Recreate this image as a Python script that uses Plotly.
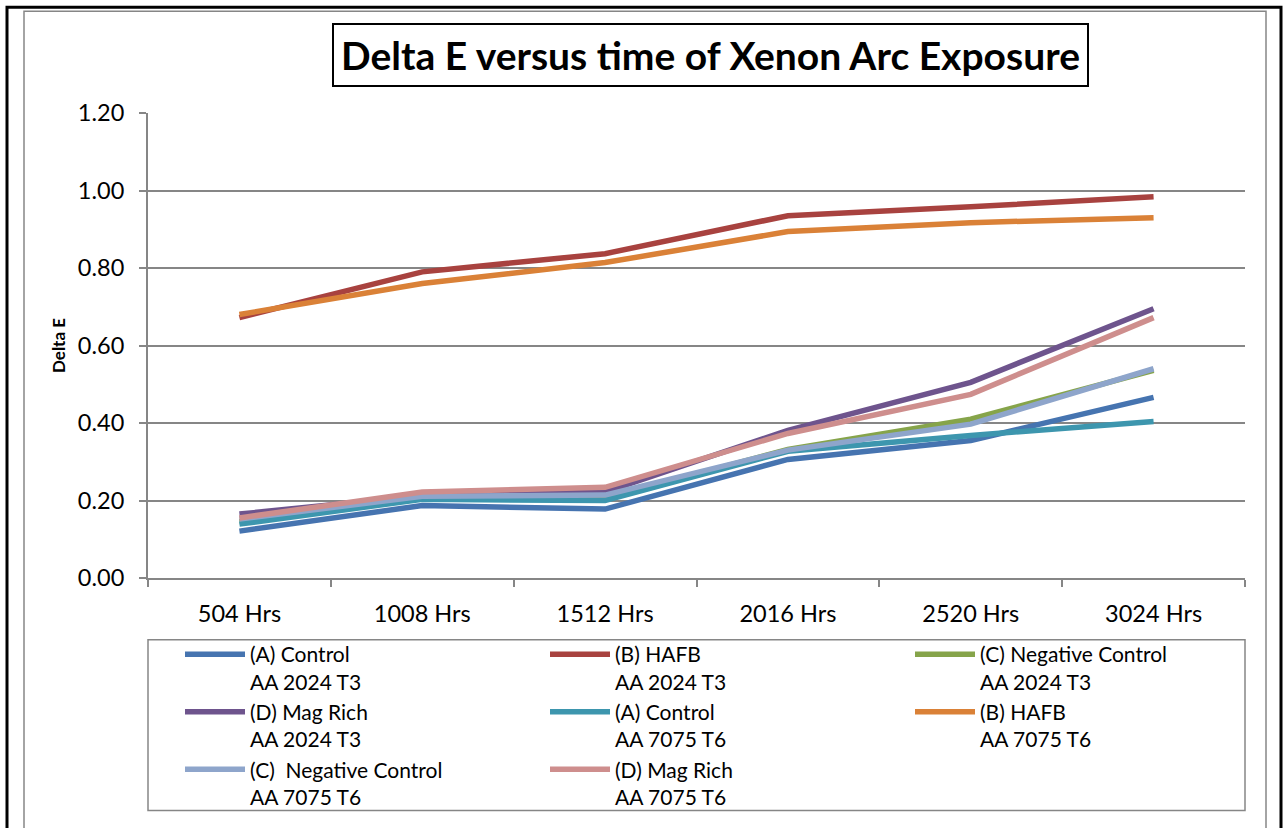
import plotly.graph_objects as go

# Exposure intervals (hours of xenon arc)
categories = ["504 Hrs", "1008 Hrs", "1512 Hrs", "2016 Hrs", "2520 Hrs", "3024 Hrs"]

# Delta E readings per coating / alloy
a_control_2024 = [0.121, 0.187, 0.178, 0.306, 0.355, 0.466]
b_hafb_2024 = [0.672, 0.790, 0.837, 0.935, 0.958, 0.984]
c_negative_2024 = [0.145, 0.205, 0.205, 0.332, 0.410, 0.536]
d_magrich_2024 = [0.165, 0.212, 0.222, 0.381, 0.505, 0.695]
a_control_7075 = [0.139, 0.203, 0.200, 0.327, 0.368, 0.404]
b_hafb_7075 = [0.680, 0.760, 0.814, 0.894, 0.917, 0.930]
c_negative_7075 = [0.152, 0.211, 0.214, 0.330, 0.397, 0.540]
d_magrich_7075 = [0.155, 0.222, 0.234, 0.373, 0.474, 0.672]

series_names = [
    "(A) Control<br>AA 2024 T3",
    "(B) HAFB<br>AA 2024 T3",
    "(C) Negative Control<br>AA 2024 T3",
    "(D) Mag Rich<br>AA 2024 T3",
    "(A) Control<br>AA 7075 T6",
    "(B) HAFB<br>AA 7075 T6",
    "(C)  Negative Control<br>AA 7075 T6",
    "(D) Mag Rich<br>AA 7075 T6",
]
series_values = [
    a_control_2024, b_hafb_2024, c_negative_2024, d_magrich_2024,
    a_control_7075, b_hafb_7075, c_negative_7075, d_magrich_7075,
]
series_colors = [
    "#4674B0", "#A8423F", "#86A44A", "#6E548D",
    "#3D96AE", "#DA8137", "#8EA5CB", "#CE8E8D",
]

FONT = "Lato"
W, H = 1288, 828
L, R, T, B = 148, 43, 113, 249
PW, PH = W - L - R, H - T - B
GRAY = "#868686"


def px(x):
    return (x - L) / PW


def py(y):
    return (H - B - y) / PH


fig = go.Figure()
for name, vals, col in zip(series_names, series_values, series_colors):
    fig.add_trace(go.Scatter(
        x=categories, y=vals, name=name, mode="lines",
        line=dict(color=col, width=5.5),
    ))

fig.update_layout(
    width=W, height=H,
    margin=dict(l=L, r=R, t=T, b=B),
    paper_bgcolor="white", plot_bgcolor="white",
    font=dict(family=FONT, size=23.5, color="black"),
    showlegend=True,
    legend=dict(
        orientation="h",
        x=px(180), xanchor="left", y=py(634), yanchor="top",
        entrywidth=290, entrywidthmode="pixels",
        bgcolor="rgba(0,0,0,0)", borderwidth=0,
        font=dict(family=FONT, size=21),
        itemwidth=60, tracegroupgap=0, valign="top",
    ),
    xaxis=dict(
        type="category", showgrid=False,
        showline=True, linecolor=GRAY, linewidth=2,
        ticks="outside", tickson="boundaries", ticklen=7, tickcolor=GRAY, tickwidth=2,
        tickfont=dict(family=FONT, size=23.5), ticklabelstandoff=14,
        range=[-0.5, 5.5],
    ),
    yaxis=dict(
        range=[0, 1.2], dtick=0.2, tickformat=".2f",
        showgrid=True, gridcolor=GRAY, gridwidth=2,
        showline=True, linecolor=GRAY, linewidth=2,
        ticks="outside", ticklen=7, tickcolor=GRAY, tickwidth=2,
        tickfont=dict(family=FONT, size=23.5), ticklabelstandoff=10, zeroline=False,
        title=dict(text="<b>Delta E</b>", font=dict(family=FONT, size=17), standoff=8),
    ),
    annotations=[
        dict(
            text="<b>Delta E versus time of Xenon Arc Exposure</b>",
            xref="paper", yref="paper", x=px(710), y=py(55),
            xanchor="center", yanchor="middle", showarrow=False,
            font=dict(family=FONT, size=39, color="black"),
            bordercolor="black", borderwidth=2, borderpad=7, bgcolor="white",
        )
    ],
    shapes=[
        # outer page frame
        dict(type="rect", xref="paper", yref="paper",
             x0=px(7), x1=px(1281), y0=py(860), y1=py(7),
             line=dict(color="black", width=3), layer="below"),
        # chart area border
        dict(type="rect", xref="paper", yref="paper",
             x0=px(24), x1=px(1266), y0=py(860), y1=py(11),
             line=dict(color=GRAY, width=1.5), layer="below"),
        # legend frame
        dict(type="rect", xref="paper", yref="paper",
             x0=0, x1=1, y0=py(812), y1=py(641),
             line=dict(color=GRAY, width=1.5), layer="below"),
    ],
)

fig.write_html("out.html")
